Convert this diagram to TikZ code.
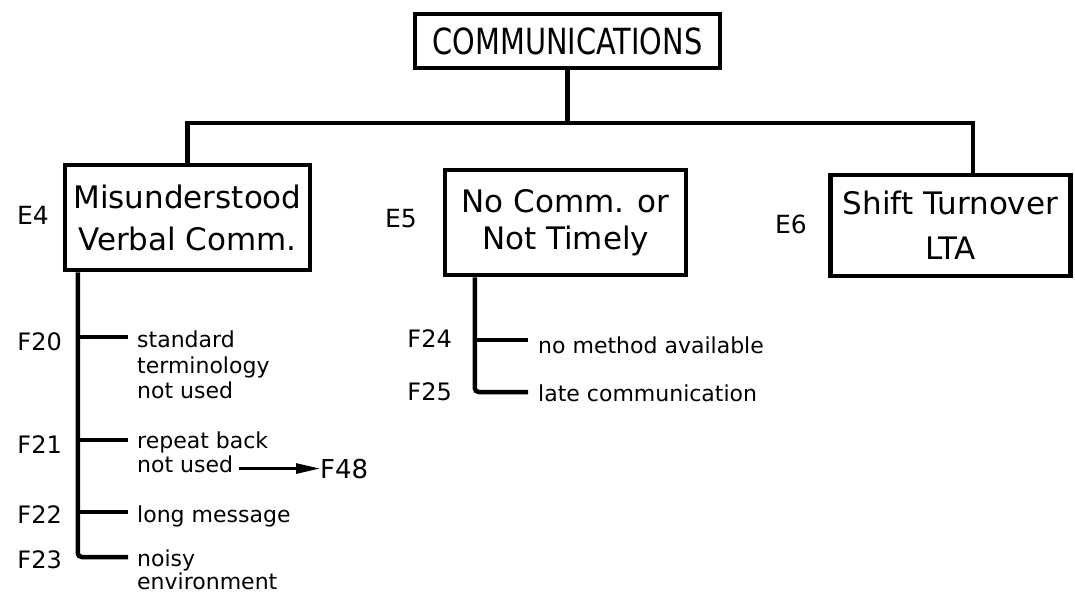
\documentclass[tikz,border=0pt]{standalone}
\usepackage{fontspec}
\setmainfont{DejaVu Sans}
\usepackage{graphicx}
\usetikzlibrary{arrows.meta,calc}
\begin{document}
\begin{tikzpicture}[x=1pt,y=-1pt,
  conn/.style={line width=4.5pt},
  ebox/.style={draw,line width=4.5pt,inner sep=0pt,align=center},
  lbl/.style={inner sep=0pt,anchor=base east,font=\fontsize{24}{24}\selectfont},
  elbl/.style={inner sep=0pt,anchor=base east,font=\fontsize{25}{25}\selectfont},
  txt/.style={inner sep=0pt,anchor=base west,font=\fontsize{22}{22}\selectfont},
  arr/.style={line width=2.8pt,-{Triangle[length=24pt,width=10pt]}}]
\useasboundingbox (0,0) rectangle (1075,595);
% boxes
\node[ebox,minimum width=305pt,minimum height=54pt,font=\fontsize{36}{36}\selectfont] (comm) at (567.5,41) {\scalebox{0.8}[1]{COMMUNICATIONS}};
\node[ebox,minimum width=245pt,minimum height=105pt,font=\fontsize{31}{42}\selectfont] (e4) at (187.5,217.5) {Misunderstood\\Verbal Comm.};
\node[ebox,minimum width=241pt,minimum height=105pt,font=\fontsize{31}{37}\selectfont] (e5) at (565.5,222.5) {No Comm. or\\Not Timely};
\node[ebox,minimum width=240pt,minimum height=101pt,font=\fontsize{31}{45}\selectfont] (e6) at (950.5,225.5) {Shift Turnover\\LTA};
% E labels
\node[elbl] (le4) at (49,224) {E4};
\node[elbl] (le5) at (417,227) {E5};
\node[elbl] (le6) at (807,233) {E6};
% top connectors
\coordinate (bl) at (187,123);
\coordinate (br) at (973,123);
\draw[conn] (e4.north) -- (e4.north |- bl) -- (br) -- (br |- e6.north);
\draw[conn] (comm.south) -- (comm.south |- bl);
% left tree
\coordinate (t4) at ([xshift=15pt]e4.south west);
\coordinate (b20) at (128,337);
\coordinate (b21) at (128,440);
\coordinate (b22) at (128,512);
\coordinate (b23) at (128,557);
\draw[conn,rounded corners=4pt] (t4) |- (b23);
\draw[conn] (t4 |- b20) -- (b20);
\draw[conn] (t4 |- b21) -- (b21);
\draw[conn] (t4 |- b22) -- (b22);
\node[lbl] (f20) at (62,350) {F20};
\node[lbl] (f21) at (62,453) {F21};
\node[lbl] (f22) at (62,523) {F22};
\node[lbl] (f23) at (62,568) {F23};
\node[txt] (s20a) at (137,347) {standard};
\node[txt] (s20b) at (137,373) {terminology};
\node[txt] (s20c) at (137,398) {not used};
\node[txt] (s21a) at (137,448) {repeat back};
\node[txt] (s21b) at (137,472) {not used};
\node[txt] (s22) at (137,522) {long message};
\node[txt] (s23a) at (137,566) {noisy};
\node[txt] (s23b) at (137,589) {environment};
\node[inner sep=0pt,anchor=base west,font=\fontsize{26}{26}\selectfont] (f48) at (320,478) {F48};
\draw[arr] ([xshift=6pt]s21b.east |- f48.west) -- (f48.west);
% middle tree
\coordinate (t5) at ([xshift=32pt]e5.south west);
\coordinate (b24) at (528,340);
\coordinate (b25) at (528,392);
\draw[conn,rounded corners=4pt] (t5) |- (b25);
\draw[conn] (t5 |- b24) -- (b24);
\node[lbl] (f24) at (452,347) {F24};
\node[lbl] (f25) at (452,400) {F25};
\node[txt] (s24) at (538,353) {no method available};
\node[txt] (s25) at (538,401) {late communication};
\end{tikzpicture}
\end{document}
